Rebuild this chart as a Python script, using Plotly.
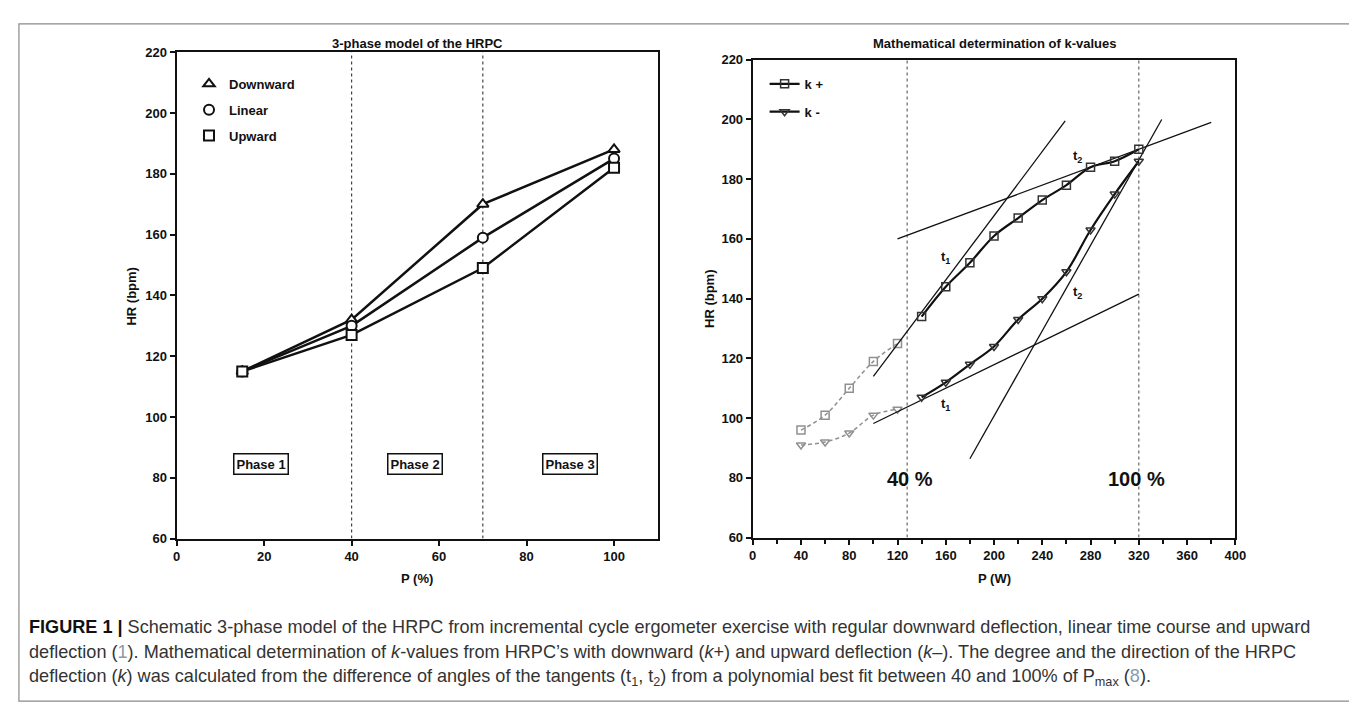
import plotly.graph_objects as go

# ---------------- Left panel: 3-phase model ----------------
p_pct = [15, 40, 70, 100]
hr_downward = [115, 132, 170, 188]
hr_linear = [115, 130, 159, 185]
hr_upward = [115, 127, 149, 182]
phase_bounds = [40, 70]
phase_labels = ["Phase 1", "Phase 2", "Phase 3"]
phase_label_x = [19.2, 54.6, 90.0]
phase_label_y = 84.5

# ---------------- Right panel: k-values ----------------
p_w_low = [40, 60, 80, 100, 120]
hr_kplus_low = [96, 101, 110, 119, 125]
hr_kminus_low = [91, 92, 95, 101, 103]
p_w_fit = [140, 160, 180, 200, 220, 240, 260, 280, 300, 320]
hr_kplus_fit = [134, 144, 152, 161, 167, 173, 178, 184, 186, 190]
hr_kminus_fit = [107, 112, 118, 124, 133, 140, 149, 163, 175, 186]

t1_kplus_x, t1_kplus_y = [100, 259], [114, 199.5]
t2_kplus_x, t2_kplus_y = [120, 380], [160, 199]
t1_kminus_x, t1_kminus_y = [100, 320], [98.2, 141.5]
t2_kminus_x, t2_kminus_y = [180, 339], [86.4, 200]
pct_marks_w = [128, 320]
pct_marks_text = ["40 %", "100 %"]
pct_marks_x = [130.6, 317.8]
pct_marks_y = 79.5
t_labels = ["t<sub>1</sub>", "t<sub>2</sub>", "t<sub>1</sub>", "t<sub>2</sub>"]
t_labels_x = [160, 269.4, 159.7, 269.4]
t_labels_y = [153.8, 187.7, 104.5, 142.1]

W, H = 1357, 703
FONT = "Arial, Liberation Sans, sans-serif"
BLACK = "#111111"
GREY = "#909090"

def px(x):
    return x / W

def py(y):
    return 1 - y / H

fig = go.Figure()

# Left panel traces
sym = {"Downward": "triangle-up", "Linear": "circle", "Upward": "square"}
for name, vals in [("Downward", hr_downward), ("Linear", hr_linear), ("Upward", hr_upward)]:
    fig.add_trace(go.Scatter(
        x=p_pct, y=vals, mode="lines+markers", xaxis="x", yaxis="y",
        line=dict(color=BLACK, width=2.5),
        marker=dict(symbol=sym[name], size=10, color="white", line=dict(color=BLACK, width=2)),
        showlegend=False, hoverinfo="skip"))
for name in ["Downward", "Linear", "Upward"]:
    fig.add_trace(go.Scatter(
        x=[None], y=[None], mode="markers", xaxis="x", yaxis="y",
        name=f"<b>{name}</b>", legend="legend", legendgroup=name,
        marker=dict(symbol=sym[name] + "-open", size=10, color=BLACK, line=dict(color=BLACK, width=2))))

# Right panel traces
fig.add_trace(go.Scatter(x=p_w_low, y=hr_kplus_low, mode="lines+markers", xaxis="x2", yaxis="y2",
                         line=dict(color=GREY, width=1.5, dash="4px,3px", shape="spline"),
                         marker=dict(symbol="square-open", size=8, color=GREY, line=dict(width=1.5)),
                         showlegend=False, hoverinfo="skip"))
fig.add_trace(go.Scatter(x=p_w_low, y=hr_kminus_low, mode="lines+markers", xaxis="x2", yaxis="y2",
                         line=dict(color=GREY, width=1.5, dash="4px,3px", shape="spline"),
                         marker=dict(symbol="triangle-down-open", size=8, color=GREY, line=dict(width=1.5)),
                         showlegend=False, hoverinfo="skip"))
for tx, ty in [(t1_kplus_x, t1_kplus_y), (t2_kplus_x, t2_kplus_y),
               (t1_kminus_x, t1_kminus_y), (t2_kminus_x, t2_kminus_y)]:
    fig.add_trace(go.Scatter(x=tx, y=ty, mode="lines", xaxis="x2", yaxis="y2",
                             line=dict(color=BLACK, width=1.3), showlegend=False, hoverinfo="skip"))
fig.add_trace(go.Scatter(x=p_w_fit, y=hr_kplus_fit, mode="lines+markers", xaxis="x2", yaxis="y2",
                         name="<b>k +</b>", legend="legend2", legendgroup="kp",
                         line=dict(color=BLACK, width=2.2, shape="spline"),
                         marker=dict(symbol="square-open", size=8, color="#333333", line=dict(width=1.5)),
                         hoverinfo="skip"))
fig.add_trace(go.Scatter(x=p_w_fit, y=hr_kminus_fit, mode="lines+markers", xaxis="x2", yaxis="y2",
                         name="<b>k -</b>", legend="legend2", legendgroup="km",
                         line=dict(color=BLACK, width=2.2, shape="spline"),
                         marker=dict(symbol="triangle-down-open", size=8, color="#333333", line=dict(width=1.5)),
                         hoverinfo="skip"))

shapes = []
for b in phase_bounds:
    shapes.append(dict(type="line", xref="x", yref="y", x0=b, x1=b, y0=60, y1=220,
                       line=dict(color="#444444", width=1.2, dash="dot"), layer="below"))
for b in pct_marks_w:
    shapes.append(dict(type="line", xref="x2", yref="y2", x0=b, x1=b, y0=60, y1=220,
                       line=dict(color="#666666", width=1.2, dash="dot"), layer="below"))
# outer frame
shapes.append(dict(type="rect", xref="paper", yref="paper", x0=px(7), x1=px(1353), y0=py(701), y1=py(9),
                   line=dict(color="#8a8a8a", width=1.2)))

annotations = []
for lbl, lx in zip(phase_labels, phase_label_x):
    annotations.append(dict(text=f"<b>{lbl}</b>", x=lx, y=phase_label_y, xref="x", yref="y",
                            showarrow=False, font=dict(family=FONT, size=13, color=BLACK),
                            bordercolor=BLACK, borderwidth=1.5, borderpad=2, bgcolor="white"))
for t, tx in zip(pct_marks_text, pct_marks_x):
    annotations.append(dict(text=f"<b>{t}</b>", x=tx, y=pct_marks_y, xref="x2", yref="y2",
                            showarrow=False, font=dict(family=FONT, size=20, color=BLACK)))
for t, tx, ty in zip(t_labels, t_labels_x, t_labels_y):
    annotations.append(dict(text=f"<b>{t}</b>", x=tx, y=ty, xref="x2", yref="y2",
                            showarrow=False, font=dict(family=FONT, size=13, color=BLACK)))

# titles and axis titles
def txt(s, x, y, size=13, angle=0, color=BLACK, xanchor="center"):
    annotations.append(dict(text=s, x=px(x), y=py(y), xref="paper", yref="paper", showarrow=False,
                            textangle=angle, xanchor=xanchor, yanchor="middle",
                            font=dict(family=FONT, size=size, color=color)))

txt("<b>3-phase model of the HRPC</b>", 410, 29, 13)
txt("<b>Mathematical determination of k-values</b>", 993, 29, 13)
txt("<b>HR (bpm)</b>", 121, 287, 13, angle=-90)
txt("<b>HR (bpm)</b>", 706, 290, 13, angle=-90)
txt("<b>P (%)</b>", 410, 576, 13)
txt("<b>P (W)</b>", 993, 576, 13)

CAP_FONT = "Liberation Sans, Arial, sans-serif"
CAP_COLOR = "#333333"
REF = "<span style='color:#8a9aa8'>"
caption_lines = [
    "<b style='color:#111111'>FIGURE 1 |</b> Schematic 3-phase model of the HRPC from incremental cycle ergometer exercise with regular downward deflection, linear time course and upward",
    f"deflection ({REF}1</span>). Mathematical determination of <i>k</i>-values from HRPC\u2019s with downward (<i>k</i>+) and upward deflection (<i>k</i>\u2013). The degree and the direction of the HRPC",
    f"deflection (<i>k</i>) was calculated from the difference of angles of the tangents (t<sub>1</sub>, t<sub>2</sub>) from a polynomial best fit between 40 and 100% of P<sub>max</sub> ({REF}8</span>).",
]
for i, line in enumerate(caption_lines):
    annotations.append(dict(text=line, x=px(15), y=py(625 + 26 * i), xref="paper", yref="paper",
                            showarrow=False, xanchor="left", yanchor="middle", align="left",
                            font=dict(family=CAP_FONT, size=18.1, color=CAP_COLOR)))

axis_common = dict(showline=True, linecolor=BLACK, linewidth=2, mirror=True, ticks="outside",
                   ticklen=5, tickwidth=1.5, tickcolor=BLACK, showgrid=False, zeroline=False,
                   tickfont=dict(family=FONT, size=13, color=BLACK, weight="bold"))

fig.update_layout(
    width=W, height=H, margin=dict(l=0, r=0, t=0, b=0),
    paper_bgcolor="white", plot_bgcolor="white",
    xaxis=dict(domain=[px(166.5), px(653)], range=[0, 110], tickvals=[0, 20, 40, 60, 80, 100], anchor="y", **axis_common),
    yaxis=dict(domain=[py(535), py(38)], range=[60, 220], dtick=20, anchor="x", **axis_common),
    xaxis2=dict(domain=[px(749), px(1237)], range=[0, 400], dtick=40, anchor="y2",
                minor=dict(dtick=20, ticks="outside", ticklen=4, tickwidth=1.5, tickcolor=BLACK), **axis_common),
    yaxis2=dict(domain=[py(534), py(45.7)], range=[60, 220], dtick=20, anchor="x2", **axis_common),
    legend=dict(x=px(179), y=py(55), xanchor="left", yanchor="top", bgcolor="rgba(0,0,0,0)",
                font=dict(family=FONT, size=13, color=BLACK), tracegroupgap=6, traceorder="grouped"),
    legend2=dict(x=px(761), y=py(55), xanchor="left", yanchor="top", bgcolor="rgba(0,0,0,0)",
                 font=dict(family=FONT, size=13, color=BLACK), tracegroupgap=8, traceorder="grouped"),
    shapes=shapes, annotations=annotations,
)

fig.write_html("out.html")
